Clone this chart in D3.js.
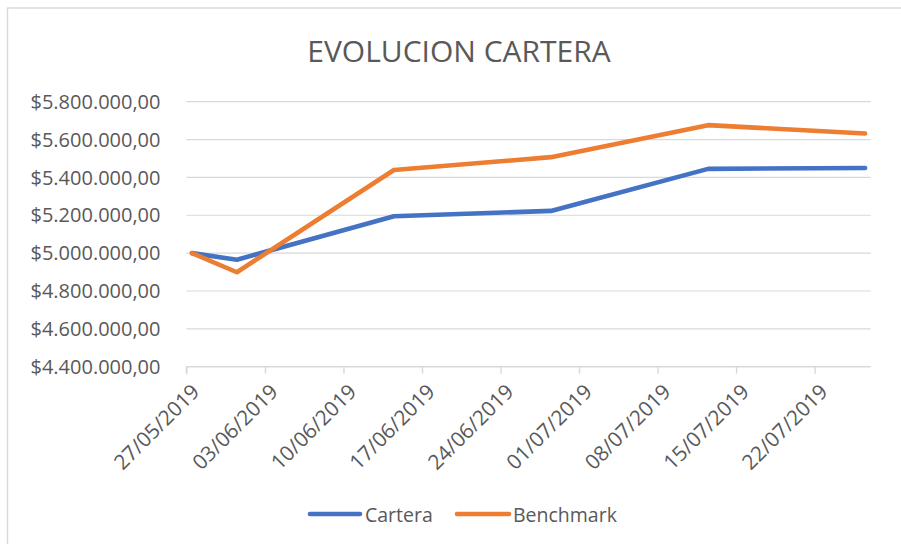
<!DOCTYPE html>
<html>
<head>
<meta charset="utf-8">
<script src="https://cdn.jsdelivr.net/npm/d3@7"></script>
<style>
  body { margin: 0; background: #fff; }
  svg { font-family: "Open Sans", sans-serif; }
</style>
</head>
<body>
<div class="dataviz"><svg></svg></div>
<script>
// Data
const fechas = ["2019-05-27", "2019-05-31", "2019-06-14", "2019-06-28", "2019-07-12", "2019-07-26"]
const cartera = [5000000, 4965000, 5195000, 5223000, 5445000, 5450000]
const benchmark = [5000000, 4899000, 5439000, 5507000, 5676000, 5632000]
const yTicks = [4400000, 4600000, 4800000, 5000000, 5200000, 5400000, 5600000, 5800000]
const series = [
    { nombre: "Cartera", valores: cartera, color: "#4472C4" },
    { nombre: "Benchmark", valores: benchmark, color: "#ED7D31" }
]

// Size
const width = 901,
    height = 544
var margin = {
    top: 101.7,
    right: 30.3,
    bottom: 177.3,
    left: 186.4
}
const gris = "#595959"

var parse = d3.utcParse("%Y-%m-%d")
var fmtFecha = d3.utcFormat("%d/%m/%Y")
var es = d3.formatLocale({ decimal: ",", thousands: ".", grouping: [3], currency: ["$", ""] })
var fmtPesos = es.format("$,.2f")

var svg = d3.select(".dataviz > svg")
    .attr("width", width)
    .attr("height", height)

// outer frame
svg.append("rect")
    .attr("x", 7.5).attr("y", 8)
    .attr("width", width + 20).attr("height", height + 20)
    .attr("fill", "none")
    .attr("stroke", "#d9d9d9")
    .attr("stroke-width", 1.4)

// Scales (date axis, each day is one unit, points sit mid-day)
var inicio = parse("2019-05-27"),
    fin = parse("2019-07-27")
var x = d3.scaleUtc()
    .domain([inicio, fin])
    .range([margin.left, width - margin.right])
var y = d3.scaleLinear()
    .domain([4400000, 5800000])
    .range([height - margin.bottom, margin.top])
var px = (s) => x(d3.utcHour.offset(parse(s), 12))

// Gridlines
svg.append("g").attr("class", "grid")
    .selectAll("line")
    .data(yTicks.slice(1))
    .join("line")
    .attr("x1", margin.left).attr("x2", width - margin.right)
    .attr("y1", d => y(d)).attr("y2", d => y(d))
    .attr("stroke", "#d9d9d9")
    .attr("stroke-width", 1.2)

// y labels
svg.append("g").attr("class", "yaxis")
    .selectAll("text")
    .data(yTicks)
    .join("text")
    .attr("x", 160.5)
    .attr("y", d => y(d))
    .attr("dy", "0.36em")
    .attr("text-anchor", "end")
    .attr("fill", gris)
    .style("font-size", "20px")
    .text(d => fmtPesos(d))

// x axis
var semanas = d3.utcMonday.range(inicio, fin)
var xAxis = g => g
    .attr("transform", `translate(0,${height - margin.bottom})`)
    .call(d3.axisBottom(x).tickValues(semanas).tickSize(7).tickFormat(""))
var gx = svg.append("g").attr("class", "xaxis").call(xAxis)
gx.select(".domain").attr("stroke", "#d9d9d9").attr("stroke-width", 1.4)
    .attr("d", `M${margin.left},7V0H${width - margin.right}`)
gx.selectAll(".tick line").attr("stroke", "#d9d9d9").attr("stroke-width", 1.4)

svg.append("g").attr("class", "xlabels")
    .selectAll("text")
    .data(semanas)
    .join("text")
    .attr("transform", d => `translate(${x(d) + 9},${height - margin.bottom + 21}) rotate(-45)`)
    .attr("dy", "0.36em")
    .attr("text-anchor", "end")
    .attr("fill", gris)
    .style("font-size", "20.8px")
    .text(d => fmtFecha(d))

// Lines
var linea = d3.line()
    .x((d, i) => px(fechas[i]))
    .y(d => y(d))

svg.append("g").attr("class", "lines")
    .selectAll("path")
    .data(series)
    .join("path")
    .attr("d", d => linea(d.valores))
    .attr("fill", "none")
    .attr("stroke", d => d.color)
    .attr("stroke-width", 4.6)
    .attr("stroke-linejoin", "round")
    .attr("stroke-linecap", "round")

// Title
svg.append("text")
    .attr("x", 459)
    .attr("y", 62)
    .attr("text-anchor", "middle")
    .attr("fill", gris)
    .style("font-size", "30px")
    .text("EVOLUCION CARTERA")

// Legend
var legX = [310, 457]
var leg = svg.append("g").attr("class", "legend")
    .selectAll("g")
    .data(series)
    .join("g")
    .attr("transform", (d, i) => `translate(${legX[i]},514)`)
leg.append("line")
    .attr("x1", 0).attr("x2", (d, i) => i == 0 ? 50 : 52)
    .attr("stroke", d => d.color)
    .attr("stroke-width", 4.6)
    .attr("stroke-linecap", "round")
leg.append("text")
    .attr("x", (d, i) => i == 0 ? 55 : 56)
    .attr("y", 7.7)
    .attr("fill", gris)
    .style("font-size", "19.5px")
    .text(d => d.nombre)
</script>
</body>
</html>
